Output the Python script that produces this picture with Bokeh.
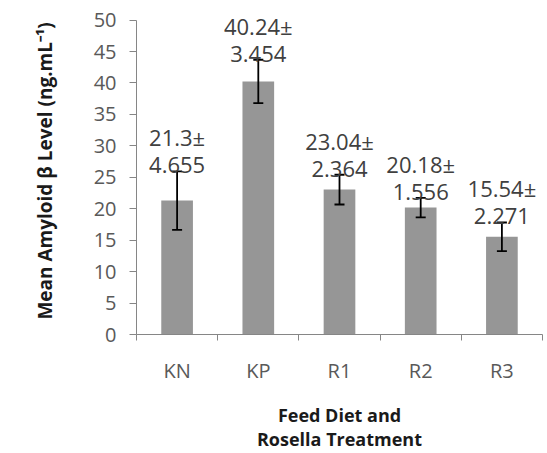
from bokeh.plotting import figure
from bokeh.models import Range1d, FixedTicker, Whisker, ColumnDataSource, TeeHead, LabelSet
from bokeh.core.properties import value
from bokeh.embed import file_html
from bokeh.resources import INLINE

categories = ["KN", "KP", "R1", "R2", "R3"]
means = [21.3, 40.24, 23.04, 20.18, 15.54]
sds = [4.655, 3.454, 2.364, 1.556, 2.271]
y_ticks = [0, 5, 10, 15, 20, 25, 30, 35, 40, 45, 50]

xc = [i + 0.5 for i in range(len(categories))]
bounds = [float(i) for i in range(len(categories) + 1)]
src = ColumnDataSource(dict(
    x=xc, top=means,
    upper=[m + s for m, s in zip(means, sds)],
    lower=[m - s for m, s in zip(means, sds)],
    l1=[f"{m}\u00b1" for m in means],
    l2=[f"{s}" for s in sds],
))

FONT = "Open Sans"
p = figure(width=547, height=453, output_backend="svg", toolbar_location=None,
           x_range=Range1d(0, len(categories)), y_range=Range1d(0, 52),
           min_border_left=136, min_border_right=5, min_border_top=7, min_border_bottom=118)
p.outline_line_color = None
p.xgrid.visible = False
p.ygrid.visible = False
p.background_fill_color = "white"

p.vbar(x="x", top="top", width=0.39, source=src, fill_color="#969696", line_color=None)

w = Whisker(base="x", upper="upper", lower="lower", source=src, line_color="black",
            line_width=1.8, level="annotation")
w.upper_head = TeeHead(size=10, line_color="black", line_width=1.8)
w.lower_head = TeeHead(size=10, line_color="black", line_width=1.8)
p.add_layout(w)

for col, off in (("l2", 6), ("l1", 34)):
    p.add_layout(LabelSet(x="x", y="upper", text=col, source=src, text_align="center",
                          text_baseline="middle", y_offset=off, text_font=value(FONT),
                          text_font_size=value("22px"), text_color="#404040"))

xa = p.xaxis[0]
xa.ticker = FixedTicker(ticks=xc, minor_ticks=bounds)
xa.major_label_overrides = {x: c for x, c in zip(xc, categories)}
xa.major_tick_out = 0
xa.major_tick_in = 0
xa.minor_tick_out = 6
xa.minor_tick_in = 0
xa.minor_tick_line_color = "#868686"
xa.axis_line_color = "#868686"
xa.major_label_standoff = 16
xa.major_label_text_font = FONT
xa.major_label_text_font_size = "20px"
xa.major_label_text_color = "#595959"
xa.axis_label = "Feed Diet and\nRosella Treatment"
xa.axis_label_text_font = FONT
xa.axis_label_text_font_size = "18px"
xa.axis_label_text_font_style = "bold"
xa.axis_label_text_color = "#1a1a1a"
xa.axis_label_standoff = 16
xa.axis_label_text_line_height = 1.0

ya = p.yaxis[0]
ya.ticker = FixedTicker(ticks=y_ticks)
ya.bounds = (0, 50)
ya.major_tick_out = 7
ya.major_tick_in = 0
ya.minor_tick_out = 0
ya.minor_tick_in = 0
ya.major_tick_line_color = "#868686"
ya.axis_line_color = "#868686"
ya.major_label_standoff = 13
ya.major_label_text_font = FONT
ya.major_label_text_font_size = "20px"
ya.major_label_text_color = "#595959"
ya.axis_label = "Mean Amyloid \u03b2 Level (ng.mL\u207b\u00b9)"
ya.axis_label_text_font = FONT
ya.axis_label_text_font_size = "19px"
ya.axis_label_text_font_style = "bold"
ya.axis_label_text_color = "#1a1a1a"
ya.axis_label_standoff = 33

open("out.html", "w").write(file_html(p, INLINE))
